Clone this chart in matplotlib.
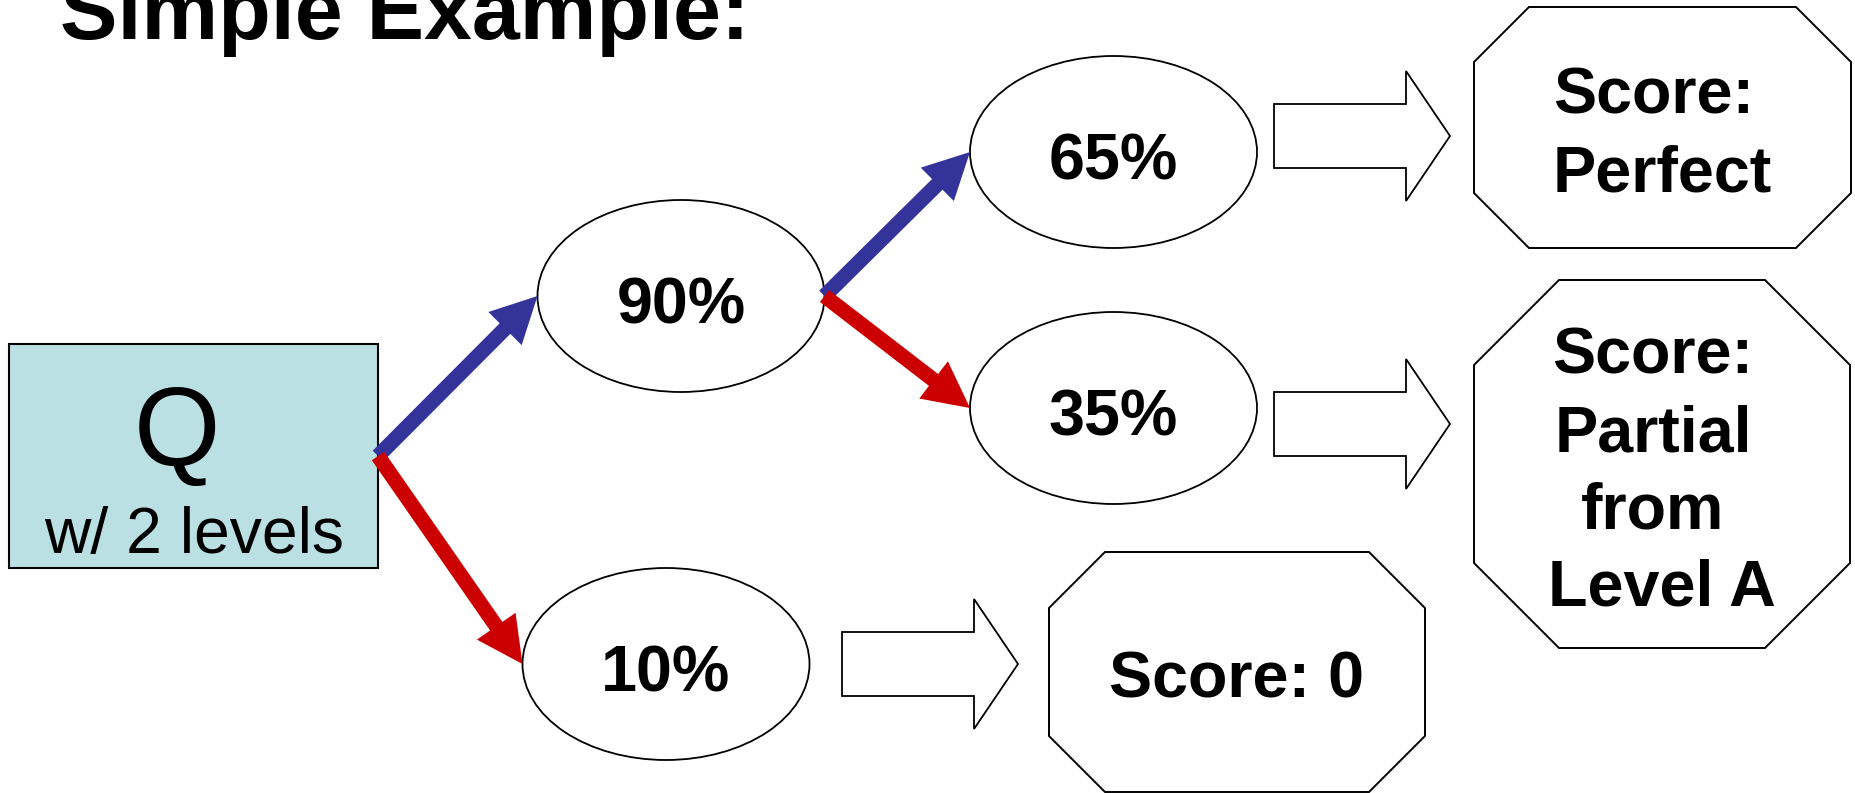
import matplotlib
matplotlib.use("Agg")
import matplotlib.pyplot as plt
from matplotlib.patches import Ellipse, Rectangle, Polygon, FancyArrow

# ---------------- data (texts) ----------------
title_text = "Simple Example:"
question_label = "Q"
question_sub = "w/ 2 levels"
node_labels = ["90%", "65%", "35%", "10%"]
score_lines = [["Score: ", "Perfect"],
               ["Score: ", "Partial ", "from ", "Level A"],
               ["Score: 0"]]

# ---------------- layout (pixel coordinates) ----------------
W, H = 1856, 793
FONT = ["Liberation Sans", "Arial", "DejaVu Sans"]
BLUE = "#333399"
RED = "#CC0000"
QFILL = "#BBE0E3"

qbox = (9.5, 344, 378, 568)                     # x0, y0, x1, y1
node_centers = [(681, 296), (1113.5, 152), (1113.5, 408), (666, 664)]
node_w, node_h = 287, 192
# branches: (from, to, colour) ; from = -1 is the question box
branches = [(-1, 0, BLUE), (-1, 3, RED), (0, 1, BLUE), (0, 2, RED)]
# block arrows: x0, head base, tip, centre y
block_arrows = [(1274, 1406, 1450, 136), (1274, 1406, 1450, 424), (842, 974, 1018, 664)]
shaft_half, head_half = 32, 65
# octagons: x0, y0, x1, y1, corner cut
octagons = [(1474, 7, 1851, 248, 55), (1474, 280, 1850, 648, 85), (1049, 552, 1425, 792, 56)]
score_first_baseline = [114, 374, 697.7]
line_step = 77.3

label_pt = 46.5
em_px = label_pt * 100 / 72.0

fig = plt.figure(figsize=(W / 100, H / 100), dpi=100)
ax = fig.add_axes([0, 0, 1, 1])
ax.set_xlim(0, W)
ax.set_ylim(H, 0)
ax.set_aspect("equal")
ax.axis("off")

# title
ax.text(60.5, 39, title_text, fontsize=62, fontweight="bold", family=FONT,
        ha="left", va="baseline", color="black")

# question box
x0, y0, x1, y1 = qbox
ax.add_patch(Rectangle((x0, y0), x1 - x0, y1 - y0, facecolor=QFILL,
                       edgecolor="black", lw=1.5, zorder=2))
ax.text(177.5, 465, question_label, fontsize=80, family=FONT, ha="center",
        va="baseline", zorder=5)
ax.text((x0 + x1) / 2, 553, question_sub, fontsize=46.3, family=FONT,
        ha="center", va="baseline", zorder=5)

# ellipses
for (cx, cy), lab in zip(node_centers, node_labels):
    ax.add_patch(Ellipse((cx, cy), node_w, node_h, facecolor="white",
                         edgecolor="black", lw=1.3, zorder=2))
    ax.text(cx, cy + 27, lab, fontsize=label_pt, fontweight="bold", family=FONT,
            ha="center", va="baseline", zorder=5)

# branch arrows
def left_pt(i):
    cx, cy = node_centers[i]
    return cx - node_w / 2, cy

def right_pt(i):
    if i == -1:
        return qbox[2], (qbox[1] + qbox[3]) / 2
    cx, cy = node_centers[i]
    return cx + node_w / 2, cy

for z, (a, b, col) in enumerate(branches):
    sx, sy = right_pt(a)
    ex, ey = left_pt(b)
    ax.add_patch(FancyArrow(sx, sy, ex - sx, ey - sy, width=15, head_width=47,
                            head_length=46, length_includes_head=True,
                            facecolor=col, edgecolor="none", zorder=3 + 0.1 * z))

# block arrows
for bx0, bxb, bxt, cy in block_arrows:
    pts = [(bx0, cy - shaft_half), (bxb, cy - shaft_half), (bxb, cy - head_half),
           (bxt, cy), (bxb, cy + head_half), (bxb, cy + shaft_half), (bx0, cy + shaft_half)]
    ax.add_patch(Polygon(pts, closed=True, facecolor="white", edgecolor="black",
                         lw=1.3, joinstyle="miter", zorder=2))

# octagons with score text
for (ox0, oy0, ox1, oy1, c), lines, fb in zip(octagons, score_lines, score_first_baseline):
    pts = [(ox0 + c, oy0), (ox1 - c, oy0), (ox1, oy0 + c), (ox1, oy1 - c),
           (ox1 - c, oy1), (ox0 + c, oy1), (ox0, oy1 - c), (ox0, oy0 + c)]
    ax.add_patch(Polygon(pts, closed=True, facecolor="white", edgecolor="black",
                         lw=1.4, joinstyle="miter", zorder=2))
    ocx = (ox0 + ox1) / 2
    for k, ln in enumerate(lines):
        shift = -0.139 * em_px if ln.endswith(" ") else 0
        ax.text(ocx + shift, fb + k * line_step, ln.rstrip(), fontsize=label_pt,
                fontweight="bold", family=FONT, ha="center", va="baseline", zorder=5)

fig.savefig("out.png", dpi=100, facecolor="white")
